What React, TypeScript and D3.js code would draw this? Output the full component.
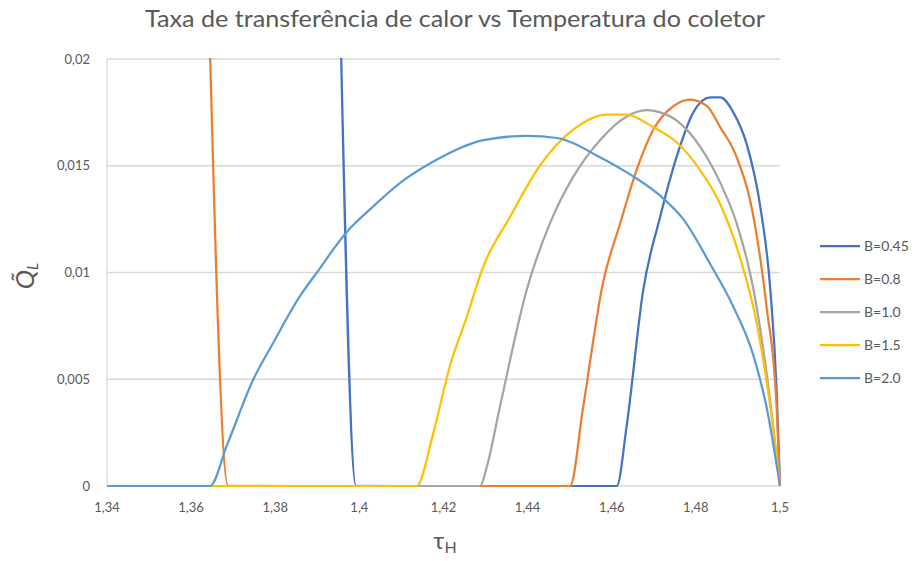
import { useMemo } from 'react'
import * as d3 from 'd3'

const WIDTH = 914
const HEIGHT = 561
const MARGIN = { top: 59, right: 134, bottom: 75, left: 107 }

const title = 'Taxa de transferência de calor vs Temperatura do coletor'
const xTicks = [1.34, 1.36, 1.38, 1.4, 1.42, 1.44, 1.46, 1.48, 1.5]
const yTicks = [0, 0.005, 0.01, 0.015, 0.02]

const seriesNames = ['B=0.45', 'B=0.8', 'B=1.0', 'B=1.5', 'B=2.0']
const seriesColors = ['#4472C4', '#ED7D31', '#A5A5A5', '#FFC000', '#5B9BD5']

// [tau_H, Q_L]
const b045 = [
  [1.395, 0.0263], [1.3992, 0], [1.42, 0], [1.44, 0], [1.4612, 0], [1.4636, 0.0029],
  [1.4675, 0.0092], [1.4715, 0.0126], [1.4754, 0.0154], [1.4794, 0.0175], [1.4834, 0.0182],
  [1.4858, 0.0182], [1.4889, 0.0175], [1.4921, 0.016], [1.4953, 0.0131], [1.4977, 0.0092],
  [1.4992, 0.0045], [1.5, 0],
]
const b08 = [
  [1.364, 0.024], [1.3688, 0], [1.4, 0], [1.4501, 0], [1.4532, 0.0037], [1.4579, 0.0095],
  [1.462, 0.0123], [1.4659, 0.0148], [1.4699, 0.0167], [1.4747, 0.0178], [1.4786, 0.0181],
  [1.4826, 0.0178], [1.4858, 0.0168], [1.4897, 0.0154], [1.4937, 0.0126], [1.4968, 0.0084],
  [1.4992, 0.0037], [1.5, 0],
]
const b10 = [
  [1.34, 0], [1.4287, 0], [1.4303, 0.0009], [1.4334, 0.0037], [1.4398, 0.0092], [1.4453, 0.0123],
  [1.4509, 0.0145], [1.4572, 0.0162], [1.4635, 0.0173], [1.4683, 0.0176], [1.4715, 0.0175],
  [1.4762, 0.017], [1.481, 0.0159], [1.4858, 0.0142], [1.4897, 0.0123], [1.4937, 0.0092],
  [1.4968, 0.0053], [1.5, 0],
]
const b15 = [
  [1.34, 0], [1.4136, 0], [1.4176, 0.0025], [1.4215, 0.0056], [1.4255, 0.0079], [1.4295, 0.0103],
  [1.4358, 0.0126], [1.4429, 0.015], [1.4509, 0.0167], [1.4588, 0.0174], [1.4635, 0.0174],
  [1.4699, 0.0168], [1.4754, 0.0161], [1.481, 0.0148], [1.4858, 0.0132], [1.4905, 0.0107],
  [1.4945, 0.0076], [1.4977, 0.0037], [1.5, 0],
]
const b20 = [
  [1.34, 0], [1.3645, 0], [1.3685, 0.0019], [1.3748, 0.005], [1.3795, 0.0067], [1.3859, 0.0089],
  [1.3899, 0.01], [1.397, 0.0119], [1.4033, 0.0131], [1.4097, 0.0142], [1.4176, 0.0152],
  [1.4295, 0.0162], [1.4398, 0.0164], [1.447, 0.0163], [1.4572, 0.0154], [1.4651, 0.0145],
  [1.4715, 0.0136], [1.477, 0.0125], [1.4834, 0.0104], [1.4889, 0.0084], [1.4937, 0.0061],
  [1.4968, 0.0037], [1.5, 0],
]
const seriesData = [b045, b08, b10, b15, b20]

const FONT = 'Lato, "Open Sans", sans-serif'
const TEXT_COLOR = '#595959'
const GRID_COLOR = '#D9D9D9'

const comma = (v: number, f: string) => d3.format(f)(v).replace('.', ',')

export default function App() {
  const boundsWidth = WIDTH - MARGIN.left - MARGIN.right
  const boundsHeight = HEIGHT - MARGIN.top - MARGIN.bottom

  const xScale = useMemo(() => d3.scaleLinear().domain([1.34, 1.5]).range([0, boundsWidth]), [boundsWidth])
  const yScale = useMemo(() => d3.scaleLinear().domain([0, 0.02]).range([boundsHeight, 0]), [boundsHeight])

  const lineGen = d3
    .line<number[]>()
    .x((d) => xScale(d[0]))
    .y((d) => yScale(d[1]))
    .curve(d3.curveMonotoneX)

  return (
    <svg
      width={WIDTH}
      height={HEIGHT}
      style={{ position: 'absolute', left: 0, top: 0, background: 'white' }}
      fontFamily={FONT}
    >
      <rect width="100%" height="100%" fill="white" />
      <text x={455} y={27} textAnchor="middle" fontSize={24} fill={TEXT_COLOR} textLength={620} lengthAdjust="spacingAndGlyphs">
        {title}
      </text>
      <defs>
        <clipPath id="plot-clip">
          <rect x={0} y={-1} width={boundsWidth + 2} height={boundsHeight + 2} />
        </clipPath>
      </defs>
      <g transform={`translate(${MARGIN.left},${MARGIN.top})`}>
        {yTicks.map((t) => (
          <g key={t}>
            <line x1={0} x2={boundsWidth} y1={yScale(t)} y2={yScale(t)} stroke={GRID_COLOR} strokeWidth={1.3} />
            <text x={-17} y={yScale(t)} dy="0.35em" textAnchor="end" fontSize={13} fill={TEXT_COLOR}>
              {t === 0 ? '0' : comma(t, '.3~f')}
            </text>
          </g>
        ))}
        <line x1={0} x2={0} y1={0} y2={boundsHeight} stroke={GRID_COLOR} strokeWidth={1.3} />
        {xTicks.map((t) => (
          <text key={t} x={xScale(t)} y={boundsHeight + 26} textAnchor="middle" fontSize={13} fill={TEXT_COLOR}>
            {comma(t, '.2~f')}
          </text>
        ))}
        <g clipPath="url(#plot-clip)">
          {seriesData.map((s, i) => (
            <path
              key={seriesNames[i]}
              d={lineGen(s) ?? ''}
              fill="none"
              stroke={seriesColors[i]}
              strokeWidth={2.25}
              strokeLinejoin="round"
            />
          ))}
        </g>
      </g>
      <text x={445} y={549} textAnchor="middle" fontSize={24} fill={TEXT_COLOR}>
        τ<tspan fontSize={16} dy={4}>H</tspan>
      </text>
      <text transform="translate(34,276) rotate(-90)" textAnchor="middle" fontSize={26} fill={TEXT_COLOR} fontStyle="italic">
        Q̃<tspan fontSize={15} dy={4}>L</tspan>
      </text>
      <g transform="translate(820,246)">
        {seriesNames.map((name, i) => (
          <g key={name} transform={`translate(0,${i * 33})`}>
            <line x1={0} x2={40} y1={0} y2={0} stroke={seriesColors[i]} strokeWidth={2.25} />
            <text x={44} y={0} dy="0.35em" fontSize={14} fill={TEXT_COLOR}>
              {name}
            </text>
          </g>
        ))}
      </g>
    </svg>
  )
}
